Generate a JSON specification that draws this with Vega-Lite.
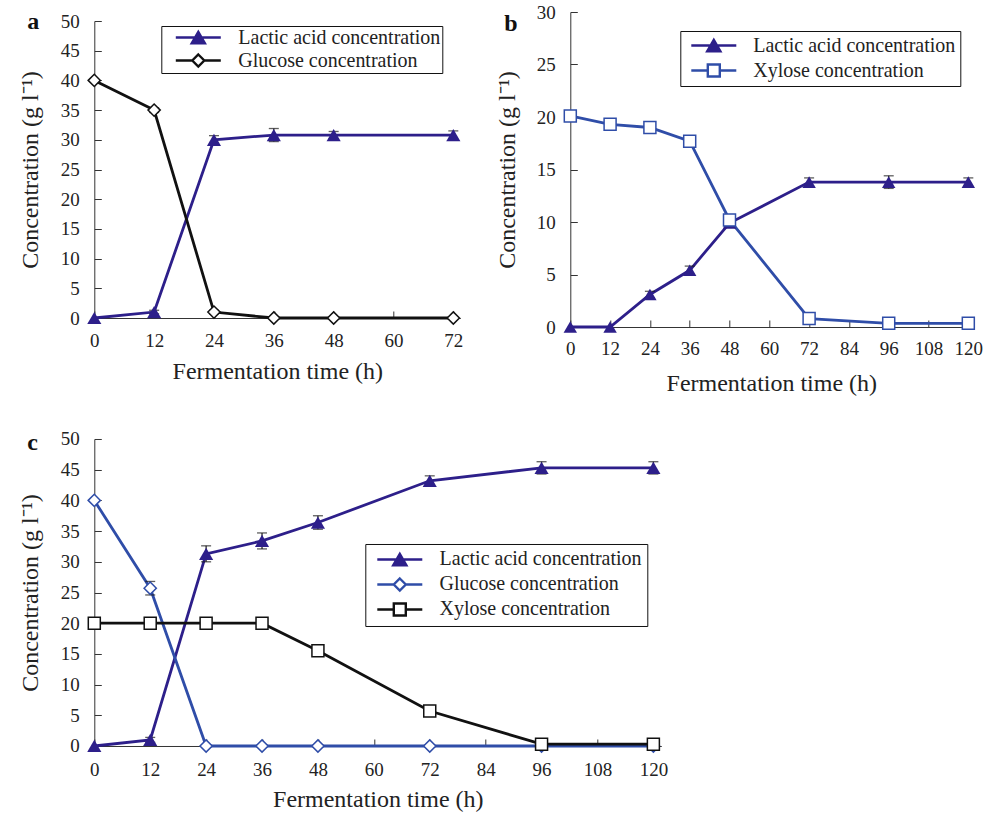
{
  "$schema": "https://vega.github.io/schema/vega-lite/v6.json",
  "background": "white",
  "padding": {"left": 18.3, "top": 3, "right": 5, "bottom": 5},
  "config": {
    "view": {"stroke": null},
    "axis": {
      "grid": false,
      "domainColor": "#333333",
      "domainWidth": 1,
      "tickColor": "#333333",
      "tickWidth": 1,
      "tickSize": -7,
      "labelFont": "Liberation Serif",
      "labelFontSize": 19,
      "labelColor": "#222222",
      "labelPadding": 22,
      "labelFlush": false,
      "labelOverlap": false,
      "titleFont": "Liberation Serif",
      "titleFontSize": 24,
      "titleFontWeight": "normal",
      "titleColor": "#222222"
    },
    "legend": {
      "labelFont": "Liberation Serif",
      "labelFontSize": 20,
      "labelColor": "#222222",
      "strokeColor": "#111111",
      "fillColor": "#ffffff",
      "symbolSize": 144,
      "labelLimit": 400
    }
  },
  "vconcat": [
    {
      "hconcat": [
        {
          "width": 366,
          "height": 297,
          "title": {"text": "a", "anchor": "start", "frame": "group", "font": "Liberation Serif", "fontSize": 24, "fontWeight": "bold", "color": "#111111", "baseline": "alphabetic", "offset": -41, "dx": -67},
          "data": {"values": [
            {"series": "Lactic acid concentration", "time": 0, "value": 0, "lo": 0, "hi": 0},
            {"series": "Lactic acid concentration", "time": 12, "value": 1.0, "lo": 0.7, "hi": 1.3},
            {"series": "Lactic acid concentration", "time": 24, "value": 30.0, "lo": 29.3, "hi": 30.7},
            {"series": "Lactic acid concentration", "time": 36, "value": 30.8, "lo": 29.7, "hi": 31.9},
            {"series": "Lactic acid concentration", "time": 48, "value": 30.8, "lo": 30.2, "hi": 31.4},
            {"series": "Lactic acid concentration", "time": 72, "value": 30.8, "lo": 30.1, "hi": 31.5},
            {"series": "Glucose concentration", "time": 0, "value": 40.0, "lo": 40.0, "hi": 40.0},
            {"series": "Glucose concentration", "time": 12, "value": 35.0, "lo": 34.6, "hi": 35.4},
            {"series": "Glucose concentration", "time": 24, "value": 1.0, "lo": 0.7, "hi": 1.3},
            {"series": "Glucose concentration", "time": 36, "value": 0, "lo": 0, "hi": 0},
            {"series": "Glucose concentration", "time": 48, "value": 0, "lo": 0, "hi": 0},
            {"series": "Glucose concentration", "time": 72, "value": 0, "lo": 0, "hi": 0}
          ]},
          "encoding": {
            "x": {"field": "time", "type": "quantitative", "scale": {"domain": [0, 73.4], "nice": false}, "axis": {"values": [0, 12, 24, 36, 48, 60, 72], "title": "Fermentation time (h)", "titlePadding": 9, "labelPadding": 20}},
            "y": {"field": "value", "type": "quantitative", "scale": {"domain": [0, 50], "nice": false}, "axis": {"values": [0, 5, 10, 15, 20, 25, 30, 35, 40, 45, 50], "title": "Concentration (g l⁻¹)", "titlePadding": 18}}
          },
          "layer": [
            {
              "mark": {"type": "line", "strokeWidth": 2.8},
              "encoding": {
                "color": {"field": "series", "type": "nominal", "sort": ["Lactic acid concentration", "Glucose concentration"],
                  "scale": {"domain": ["Lactic acid concentration", "Glucose concentration"], "range": ["#2D1F8A", "#111111"]},
                  "legend": {"title": null, "orient": "none", "legendX": 67, "legendY": 5, "padding": 1.5, "rowPadding": 1, "symbolOffset": 25.5, "labelOffset": 30,
                    "labelExpr": "datum.label + '\u00a0\u00a0\u00a0'",
                    "encode": {"symbols": {"update": {
                      "shape": {"signal": "datum.value == 'Lactic acid concentration' ? 'M-3.75,0L3.75,0M0,-0.95L1.1,0.95L-1.1,0.95Z' : 'M-3.75,0L-1,0M1,0L3.75,0M0,-1L1,0L0,1L-1,0Z'"},
                      "fill": {"signal": "datum.value == 'Lactic acid concentration' ? '#2D1F8A' : '#ffffff'"},
                      "stroke": {"signal": "datum.value == 'Lactic acid concentration' ? '#2D1F8A' : '#111111'"},
                      "strokeWidth": {"value": 2.4},
                      "size": {"value": 144},
                      "opacity": {"value": 1}
                    }}}}
                }
              }
            },
            {
              "transform": [{"filter": "datum.hi > datum.lo"}],
              "mark": {"type": "rule", "color": "#1a1a1a", "strokeWidth": 1.2},
              "encoding": {"y": {"field": "lo", "type": "quantitative"}, "y2": {"field": "hi"}}
            },
            {
              "transform": [{"filter": "datum.hi > datum.lo"}],
              "mark": {"type": "tick", "orient": "horizontal", "color": "#1a1a1a", "size": 10, "thickness": 1.3},
              "encoding": {"y": {"field": "hi", "type": "quantitative"}}
            },
            {
              "transform": [{"filter": "datum.hi > datum.lo"}],
              "mark": {"type": "tick", "orient": "horizontal", "color": "#1a1a1a", "size": 10, "thickness": 1.3},
              "encoding": {"y": {"field": "lo", "type": "quantitative"}}
            },
            {
              "transform": [{"filter": "datum.series == 'Lactic acid concentration'"}],
              "mark": {"type": "point", "shape": "triangle-up", "filled": true, "color": "#2D1F8A", "size": 200, "opacity": 1}
            },
            {
              "transform": [{"filter": "datum.series == 'Glucose concentration'"}],
              "mark": {"type": "point", "shape": "diamond", "filled": true, "fill": "#ffffff", "stroke": "#111111", "strokeWidth": 1.5, "size": 150, "opacity": 1}
            }
          ]
        },
        {
          "width": 402,
          "height": 315,
          "title": {"text": "b", "anchor": "start", "frame": "group", "font": "Liberation Serif", "fontSize": 24, "fontWeight": "bold", "color": "#111111", "baseline": "alphabetic", "offset": -52, "dx": -66},
          "data": {"values": [
            {"series": "Lactic acid concentration", "time": 0, "value": 0, "lo": 0, "hi": 0},
            {"series": "Lactic acid concentration", "time": 12, "value": 0, "lo": 0, "hi": 0},
            {"series": "Lactic acid concentration", "time": 24, "value": 3.1, "lo": 2.8, "hi": 3.4},
            {"series": "Lactic acid concentration", "time": 36, "value": 5.4, "lo": 5.0, "hi": 5.8},
            {"series": "Lactic acid concentration", "time": 48, "value": 9.9, "lo": 9.6, "hi": 10.2},
            {"series": "Lactic acid concentration", "time": 72, "value": 13.8, "lo": 13.4, "hi": 14.2},
            {"series": "Lactic acid concentration", "time": 96, "value": 13.8, "lo": 13.2, "hi": 14.4},
            {"series": "Lactic acid concentration", "time": 120, "value": 13.8, "lo": 13.4, "hi": 14.2},
            {"series": "Xylose concentration", "time": 0, "value": 20.1, "lo": 19.9, "hi": 20.3},
            {"series": "Xylose concentration", "time": 12, "value": 19.3, "lo": 18.8, "hi": 19.8},
            {"series": "Xylose concentration", "time": 24, "value": 19.0, "lo": 18.6, "hi": 19.4},
            {"series": "Xylose concentration", "time": 36, "value": 17.7, "lo": 17.3, "hi": 18.1},
            {"series": "Xylose concentration", "time": 48, "value": 10.2, "lo": 10.0, "hi": 10.4},
            {"series": "Xylose concentration", "time": 72, "value": 0.8, "lo": 0.7, "hi": 0.9},
            {"series": "Xylose concentration", "time": 96, "value": 0.35, "lo": 0.25, "hi": 0.45},
            {"series": "Xylose concentration", "time": 120, "value": 0.35, "lo": 0.25, "hi": 0.45}
          ]},
          "encoding": {
            "x": {"field": "time", "type": "quantitative", "scale": {"domain": [0, 121.2], "nice": false}, "axis": {"values": [0, 12, 24, 36, 48, 60, 72, 84, 96, 108, 120], "title": "Fermentation time (h)", "titlePadding": 13, "labelPadding": 19}},
            "y": {"field": "value", "type": "quantitative", "scale": {"domain": [0, 30], "nice": false}, "axis": {"values": [0, 5, 10, 15, 20, 25, 30], "title": "Concentration (g l⁻¹)", "titlePadding": 17}}
          },
          "layer": [
            {
              "mark": {"type": "line", "strokeWidth": 2.8},
              "encoding": {
                "color": {"field": "series", "type": "nominal", "sort": ["Lactic acid concentration", "Xylose concentration"],
                  "scale": {"domain": ["Lactic acid concentration", "Xylose concentration"], "range": ["#2D1F8A", "#2F4DA8"]},
                  "legend": {"title": null, "orient": "none", "legendX": 110, "legendY": 19, "padding": 4.5, "rowPadding": 3, "symbolOffset": 19, "labelOffset": 29.5,
                    "labelExpr": "datum.label + '\u00a0'",
                    "encode": {"symbols": {"update": {
                      "shape": {"signal": "datum.value == 'Lactic acid concentration' ? 'M-3.75,0L3.75,0M0,-0.95L1.1,0.95L-1.1,0.95Z' : 'M-3.75,0L-1,0M1,0L3.75,0M-1,-1L1,-1L1,1L-1,1Z'"},
                      "fill": {"signal": "datum.value == 'Lactic acid concentration' ? '#2D1F8A' : '#ffffff'"},
                      "stroke": {"signal": "datum.value == 'Lactic acid concentration' ? '#2D1F8A' : '#2F4DA8'"},
                      "strokeWidth": {"value": 2.4},
                      "size": {"value": 144},
                      "opacity": {"value": 1}
                    }}}}
                }
              }
            },
            {
              "transform": [{"filter": "datum.hi > datum.lo"}],
              "mark": {"type": "rule", "color": "#1a1a1a", "strokeWidth": 1.2},
              "encoding": {"y": {"field": "lo", "type": "quantitative"}, "y2": {"field": "hi"}}
            },
            {
              "transform": [{"filter": "datum.hi > datum.lo"}],
              "mark": {"type": "tick", "orient": "horizontal", "color": "#1a1a1a", "size": 10, "thickness": 1.3},
              "encoding": {"y": {"field": "hi", "type": "quantitative"}}
            },
            {
              "transform": [{"filter": "datum.hi > datum.lo"}],
              "mark": {"type": "tick", "orient": "horizontal", "color": "#1a1a1a", "size": 10, "thickness": 1.3},
              "encoding": {"y": {"field": "lo", "type": "quantitative"}}
            },
            {
              "transform": [{"filter": "datum.series == 'Lactic acid concentration'"}],
              "mark": {"type": "point", "shape": "triangle-up", "filled": true, "color": "#2D1F8A", "size": 180, "opacity": 1}
            },
            {
              "transform": [{"filter": "datum.series == 'Xylose concentration'"}],
              "mark": {"type": "point", "shape": "square", "filled": true, "fill": "#ffffff", "stroke": "#2F4DA8", "strokeWidth": 1.5, "size": 144, "opacity": 1}
            }
          ]
        }
      ],
      "spacing": 110,
      "center": true,
      "bounds": "flush",
      "resolve": {"scale": {"color": "independent", "x": "independent", "y": "independent"}}
    },
    {
      "width": 567,
      "height": 307,
      "title": {"text": "c", "anchor": "start", "frame": "group", "font": "Liberation Serif", "fontSize": 24, "fontWeight": "bold", "color": "#111111", "baseline": "alphabetic", "offset": -44, "dx": -67},
      "data": {"values": [
        {"series": "Lactic acid concentration", "time": 0, "value": 0, "lo": 0, "hi": 0},
        {"series": "Lactic acid concentration", "time": 12, "value": 1.0, "lo": 0.6, "hi": 1.4},
        {"series": "Lactic acid concentration", "time": 24, "value": 31.3, "lo": 30.0, "hi": 32.6},
        {"series": "Lactic acid concentration", "time": 36, "value": 33.4, "lo": 32.1, "hi": 34.7},
        {"series": "Lactic acid concentration", "time": 48, "value": 36.4, "lo": 35.3, "hi": 37.5},
        {"series": "Lactic acid concentration", "time": 72, "value": 43.2, "lo": 42.4, "hi": 44.0},
        {"series": "Lactic acid concentration", "time": 96, "value": 45.3, "lo": 44.3, "hi": 46.3},
        {"series": "Lactic acid concentration", "time": 120, "value": 45.3, "lo": 44.3, "hi": 46.3},
        {"series": "Glucose concentration", "time": 0, "value": 40.0, "lo": 40.0, "hi": 40.0},
        {"series": "Glucose concentration", "time": 12, "value": 25.7, "lo": 24.6, "hi": 26.8},
        {"series": "Glucose concentration", "time": 24, "value": 0, "lo": 0, "hi": 0},
        {"series": "Glucose concentration", "time": 36, "value": 0, "lo": 0, "hi": 0},
        {"series": "Glucose concentration", "time": 48, "value": 0, "lo": 0, "hi": 0},
        {"series": "Glucose concentration", "time": 72, "value": 0, "lo": 0, "hi": 0},
        {"series": "Glucose concentration", "time": 96, "value": 0, "lo": 0, "hi": 0},
        {"series": "Glucose concentration", "time": 120, "value": 0, "lo": 0, "hi": 0},
        {"series": "Xylose concentration", "time": 0, "value": 20.0, "lo": 20.0, "hi": 20.0},
        {"series": "Xylose concentration", "time": 12, "value": 20.0, "lo": 20.0, "hi": 20.0},
        {"series": "Xylose concentration", "time": 24, "value": 20.0, "lo": 20.0, "hi": 20.0},
        {"series": "Xylose concentration", "time": 36, "value": 20.0, "lo": 20.0, "hi": 20.0},
        {"series": "Xylose concentration", "time": 48, "value": 15.5, "lo": 14.8, "hi": 16.2},
        {"series": "Xylose concentration", "time": 72, "value": 5.7, "lo": 5.4, "hi": 6.0},
        {"series": "Xylose concentration", "time": 96, "value": 0.3, "lo": 0.2, "hi": 0.4},
        {"series": "Xylose concentration", "time": 120, "value": 0.3, "lo": 0.2, "hi": 0.4}
      ]},
      "encoding": {
        "x": {"field": "time", "type": "quantitative", "scale": {"domain": [0, 121.7], "nice": false}, "axis": {"values": [0, 12, 24, 36, 48, 60, 72, 84, 96, 108, 120], "title": "Fermentation time (h)", "titlePadding": 8}},
        "y": {"field": "value", "type": "quantitative", "scale": {"domain": [0, 50], "nice": false}, "axis": {"values": [0, 5, 10, 15, 20, 25, 30, 35, 40, 45, 50], "title": "Concentration (g l⁻¹)", "titlePadding": 18}}
      },
      "layer": [
        {
          "mark": {"type": "line", "strokeWidth": 2.8},
          "encoding": {
            "color": {"field": "series", "type": "nominal", "sort": ["Lactic acid concentration", "Glucose concentration", "Xylose concentration"],
              "scale": {"domain": ["Lactic acid concentration", "Glucose concentration", "Xylose concentration"], "range": ["#2D1F8A", "#2F4DA8", "#111111"]},
              "legend": {"title": null, "orient": "none", "legendX": 271, "legendY": 105, "padding": 5.5, "rowPadding": 3, "symbolOffset": 19, "labelOffset": 29.8,
                "labelExpr": "datum.label + '\u00a0'",
                "encode": {"symbols": {"update": {
                  "shape": {"signal": "datum.value == 'Lactic acid concentration' ? 'M-3.75,0L3.75,0M0,-0.95L1.1,0.95L-1.1,0.95Z' : datum.value == 'Glucose concentration' ? 'M-3.75,0L-1,0M1,0L3.75,0M0,-1L1,0L0,1L-1,0Z' : 'M-3.75,0L-1,0M1,0L3.75,0M-1,-1L1,-1L1,1L-1,1Z'"},
                  "fill": {"signal": "datum.value == 'Lactic acid concentration' ? '#2D1F8A' : '#ffffff'"},
                  "stroke": {"signal": "datum.value == 'Lactic acid concentration' ? '#2D1F8A' : datum.value == 'Glucose concentration' ? '#2F4DA8' : '#111111'"},
                  "strokeWidth": {"value": 2.4},
                  "size": {"value": 144},
                  "opacity": {"value": 1}
                }}}}
            }
          }
        },
        {
          "transform": [{"filter": "datum.hi > datum.lo"}],
          "mark": {"type": "rule", "color": "#1a1a1a", "strokeWidth": 1.2},
          "encoding": {"y": {"field": "lo", "type": "quantitative"}, "y2": {"field": "hi"}}
        },
        {
          "transform": [{"filter": "datum.hi > datum.lo"}],
          "mark": {"type": "tick", "orient": "horizontal", "color": "#1a1a1a", "size": 10, "thickness": 1.3},
          "encoding": {"y": {"field": "hi", "type": "quantitative"}}
        },
        {
          "transform": [{"filter": "datum.hi > datum.lo"}],
          "mark": {"type": "tick", "orient": "horizontal", "color": "#1a1a1a", "size": 10, "thickness": 1.3},
          "encoding": {"y": {"field": "lo", "type": "quantitative"}}
        },
        {
          "transform": [{"filter": "datum.series == 'Glucose concentration'"}],
          "mark": {"type": "point", "shape": "diamond", "filled": true, "fill": "#ffffff", "stroke": "#2F4DA8", "strokeWidth": 1.5, "size": 150, "opacity": 1}
        },
        {
          "transform": [{"filter": "datum.series == 'Xylose concentration'"}],
          "mark": {"type": "point", "shape": "square", "filled": true, "fill": "#ffffff", "stroke": "#111111", "strokeWidth": 1.5, "size": 144, "opacity": 1}
        },
        {
          "transform": [{"filter": "datum.series == 'Lactic acid concentration'"}],
          "mark": {"type": "point", "shape": "triangle-up", "filled": true, "color": "#2D1F8A", "size": 200, "opacity": 1}
        }
      ]
    }
  ],
  "spacing": 35,
  "resolve": {"scale": {"color": "independent", "x": "independent", "y": "independent"}}
}
